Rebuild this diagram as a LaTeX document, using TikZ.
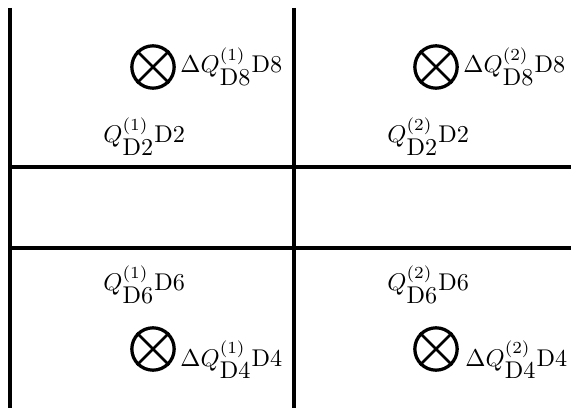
\documentclass[tikz,border=0pt]{standalone}
\usepackage{amsmath}
\newcommand{\bigsub}[1]{{\textstyle\mathrm{#1}}}
\begin{document}
\begin{tikzpicture}[x=0.4132pt,y=-0.4132pt,
  wall/.style={line width=1.25pt},
  otimesnode/.style={circle,draw,line width=1.35pt,minimum size=17.5pt,inner sep=0pt},
  crossline/.style={line width=1.15pt},
  lab/.style={anchor=base west,inner sep=0pt}]
\useasboundingbox (0,0) rectangle (571,408);
\coordinate (v1t) at (10,8);
\coordinate (v1b) at (10,408);
\coordinate (v2t) at (294,8);
\coordinate (v2b) at (294,408);
\coordinate (h1l) at (10,167);
\coordinate (h1r) at (571,167);
\coordinate (h2l) at (10,248);
\coordinate (h2r) at (571,248);
\draw[wall] (v1t) -- (v1b);
\draw[wall] (v2t) -- (v2b);
\draw[wall] (h1l) -- (h1r);
\draw[wall] (h2l) -- (h2r);
% circles with crosses
\foreach \n/\px/\py in {c1/153/67, c2/436/67, c3/153/349, c4/436/349}{
  \node[otimesnode] (\n) at (\px,\py) {};
  \draw[crossline] (\n.north west) -- (\n.south east);
  \draw[crossline] (\n.north east) -- (\n.south west);
}
\node[lab] (t1) at (180,73) {$\Delta Q^{(1)}_{\bigsub{D8}}\mathrm{D8}$};
\node[lab] (t2) at (463,73) {$\Delta Q^{(2)}_{\bigsub{D8}}\mathrm{D8}$};
\node[lab] (t3) at (103,143) {$Q^{(1)}_{\bigsub{D2}}\mathrm{D2}$};
\node[lab] (t4) at (387,143) {$Q^{(2)}_{\bigsub{D2}}\mathrm{D2}$};
\node[lab] (t5) at (103,291) {$Q^{(1)}_{\bigsub{D6}}\mathrm{D6}$};
\node[lab] (t6) at (387,291) {$Q^{(2)}_{\bigsub{D6}}\mathrm{D6}$};
\node[lab] (t7) at (180,366) {$\Delta Q^{(1)}_{\bigsub{D4}}\mathrm{D4}$};
\node[lab] (t8) at (465,366) {$\Delta Q^{(2)}_{\bigsub{D4}}\mathrm{D4}$};
\end{tikzpicture}
\end{document}
